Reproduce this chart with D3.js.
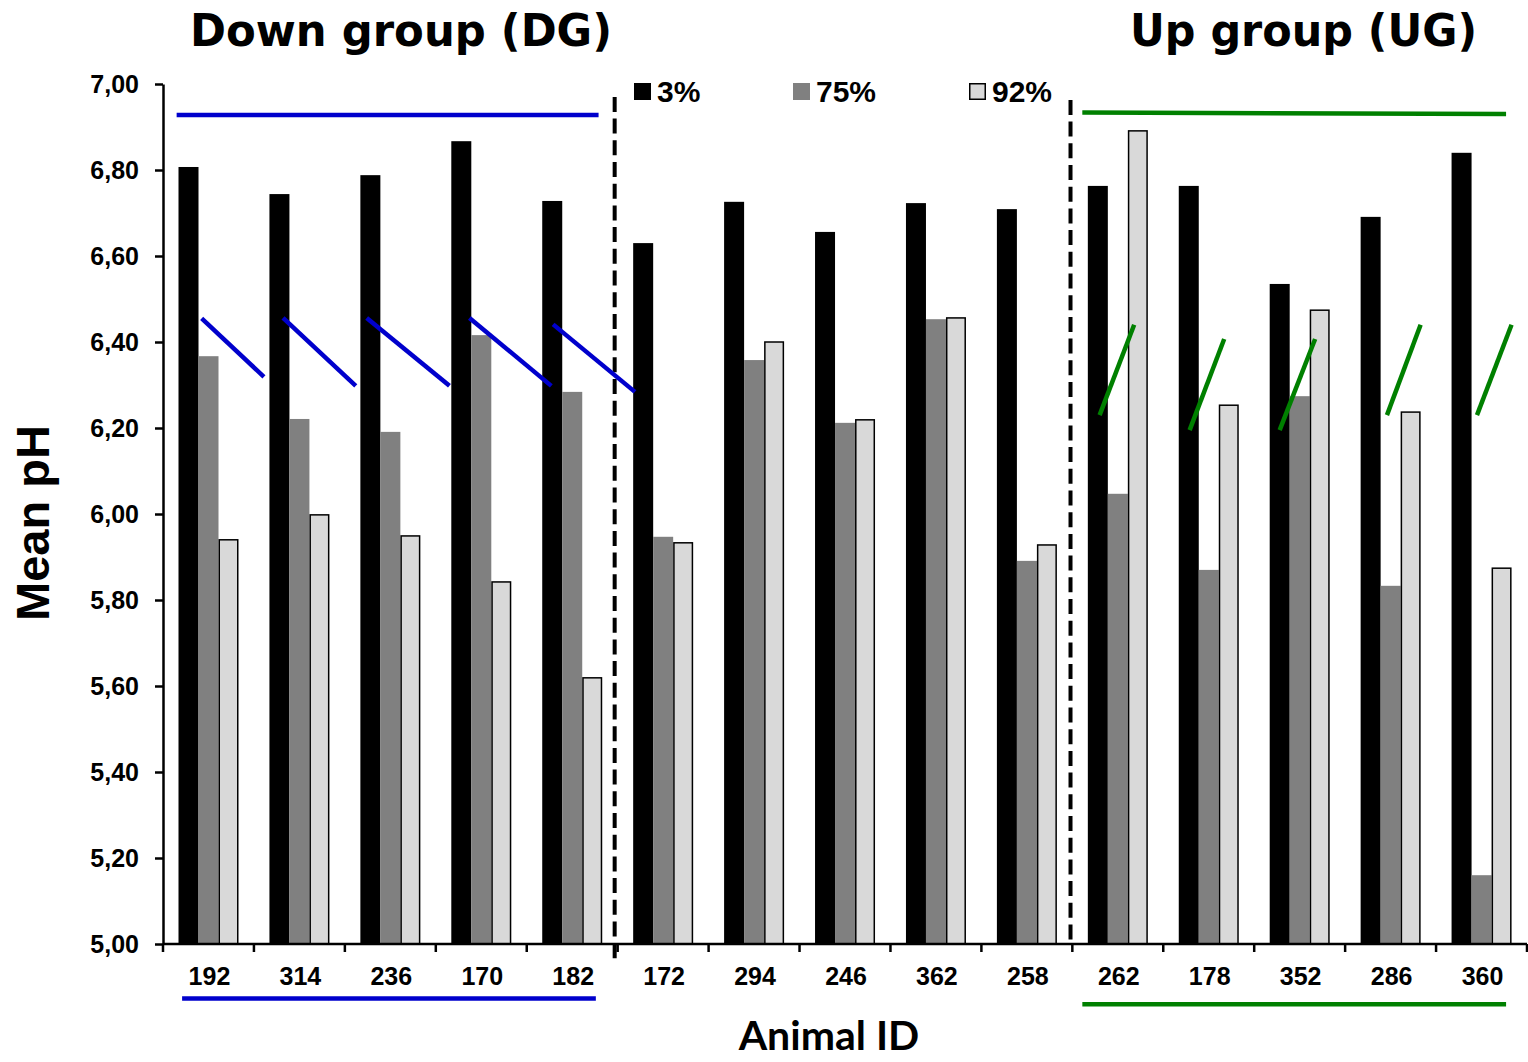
<!DOCTYPE html>
<html><head><meta charset="utf-8">
<script src="https://cdn.jsdelivr.net/npm/d3@7"></script>
<style>body{margin:0;background:#fff}svg{display:block}</style>
</head><body>
<svg id="c" width="1528" height="1062"></svg>
<script>
// ---- data ----
const categories = ["192","314","236","170","182","172","294","246","362","258","262","178","352","286","360"];
const seriesNames = ["3%","75%","92%"];
const values3  = [6.807,6.744,6.788,6.867,6.728,6.630,6.726,6.656,6.723,6.709,6.763,6.763,6.535,6.691,6.840];
const values75 = [6.367,6.221,6.191,6.416,6.284,5.947,6.358,6.212,6.453,5.891,6.047,5.870,6.274,5.833,5.160];
const values92 = [5.940,5.998,5.949,5.842,5.619,5.933,6.400,6.219,6.456,5.928,6.891,6.253,6.474,6.237,5.874];
const yTicks = [5.0,5.2,5.4,5.6,5.8,6.0,6.2,6.4,6.6,6.8,7.0];
const groupTitles = ["Down group (DG)","Up group (UG)"];
// annotation lines: [x in category-index units, pH value]
const blueLines = [
  [[0.15,6.928],[4.79,6.928]],
  [[0.21,4.873],[4.76,4.873]],
  [[0.425,6.455],[1.11,6.319]],
  [[1.32,6.456],[2.12,6.298]],
  [[2.24,6.456],[3.15,6.298]],
  [[3.37,6.456],[4.27,6.298]],
  [[4.29,6.441],[5.19,6.284]]
];
const greenLines = [
  [[10.11,6.934],[14.77,6.930]],
  [[10.11,4.860],[14.77,4.860]],
  [[10.30,6.230],[10.68,6.440]],
  [[11.29,6.195],[11.67,6.407]],
  [[12.28,6.195],[12.67,6.407]],
  [[13.46,6.230],[13.83,6.440]],
  [[14.45,6.230],[14.83,6.440]]
];
const separators = [
  [[4.967,6.970],[4.967,4.958]],
  [[9.98,6.963],[9.98,5.0]]
];

(function(){
const colors = ["#000000","#808080","#d9d9d9"];
const svg = d3.select("#c");
const pLeft = 163, pRight = 1527, pTop = 84, pBottom = 944;
const y = d3.scaleLinear().domain([5,7]).range([pBottom, pTop]);
const x0 = d3.scaleBand().domain(categories).range([pLeft, pRight]).padding(0);
const x1 = d3.scaleBand().domain(seriesNames).range([15.5, 75.5]).padding(0);
const xi = d3.scaleLinear().domain([0, categories.length]).range([pLeft, pRight]);
const locale = d3.formatLocale({decimal: ",", thousands: ".", grouping: [3], currency: ["", ""]});
const fmt = locale.format(".2f");

const series = [values3, values75, values92];
const rows = categories.map((c, i) => ({c, vals: seriesNames.map((s, k) => ({s, k, v: series[k][i]}))}));

// bars
const g = svg.append("g");
g.selectAll("g.cat").data(rows).join("g")
  .attr("transform", d => `translate(${x0(d.c)},0)`)
  .selectAll("rect").data(d => d.vals).join("rect")
  .attr("x", d => x1(d.s) + (d.k === 2 ? 0.75 : 0))
  .attr("width", d => x1.bandwidth() - (d.k === 2 ? 1.5 : 0))
  .attr("y", d => y(d.v))
  .attr("height", d => y(5) - y(d.v))
  .attr("fill", d => colors[d.k])
  .attr("stroke", d => d.k === 2 ? "#000" : "none")
  .attr("stroke-width", 1.5);

// y axis
const yAxis = d3.axisLeft(y).tickValues(yTicks).tickFormat(fmt).tickSize(8).tickSizeOuter(0).tickPadding(16);
const ya = svg.append("g").attr("transform", `translate(${pLeft},0)`).call(yAxis);
ya.selectAll("path,line").attr("stroke", "#000").attr("stroke-width", 2.5);
ya.selectAll("text").attr("font-family", "Liberation Sans, Arial, sans-serif").attr("font-weight", "bold").attr("font-size", 25).attr("fill", "#000");

// x axis
const xa = svg.append("g");
xa.append("line").attr("x1", pLeft).attr("x2", pRight).attr("y1", y(5)).attr("y2", y(5)).attr("stroke", "#000").attr("stroke-width", 2.5);
xa.selectAll("line.t").data(categories.concat(["__end"])).join("line")
  .attr("x1", (d, i) => i < categories.length ? x0(d) : pRight)
  .attr("x2", (d, i) => i < categories.length ? x0(d) : pRight)
  .attr("y1", y(5)).attr("y2", y(5) + 8)
  .attr("stroke", "#000").attr("stroke-width", 2.5);
xa.selectAll("text").data(categories).join("text")
  .attr("x", d => x0(d) + x0.bandwidth() / 2 + 1)
  .attr("y", 985)
  .attr("text-anchor", "middle")
  .attr("font-family", "Liberation Sans, Arial, sans-serif").attr("font-weight", "bold").attr("font-size", 25)
  .text(d => d);

// separators
const line = d3.line().x(d => xi(d[0])).y(d => y(d[1]));
svg.selectAll("path.sep").data(separators).join("path")
  .attr("d", line).attr("stroke", "#000").attr("stroke-width", 4).attr("stroke-dasharray", "15,6.7").attr("fill", "none");

// annotation lines
svg.selectAll("path.blue").data(blueLines).join("path")
  .attr("d", line).attr("stroke", "#0000cc").attr("stroke-width", 4.5).attr("fill", "none");
svg.selectAll("path.green").data(greenLines).join("path")
  .attr("d", line).attr("stroke", "#008000").attr("stroke-width", 4.5).attr("fill", "none");

// legend
const legX = [634, 793, 969];
const lg = svg.append("g");
seriesNames.forEach((s, k) => {
  lg.append("rect").attr("x", legX[k] + (k === 2 ? 0.75 : 0)).attr("y", 83 + (k === 2 ? 0.75 : 0))
    .attr("width", 17 - (k === 2 ? 1.5 : 0)).attr("height", 17 - (k === 2 ? 1.5 : 0))
    .attr("fill", colors[k]).attr("stroke", k === 2 ? "#000" : "none").attr("stroke-width", 1.5);
  lg.append("text").attr("x", legX[k] + 23).attr("y", 102)
    .attr("font-family", "Liberation Sans, Arial, sans-serif").attr("font-weight", "bold").attr("font-size", 30)
    .text(s);
});

// titles
svg.append("text").attr("x", 401).attr("y", 46).attr("text-anchor", "middle")
  .attr("font-family", "DejaVu Sans, Verdana, sans-serif").attr("font-weight", "bold").attr("font-size", 44)
  .attr("textLength", 422).attr("lengthAdjust", "spacingAndGlyphs")
  .text(groupTitles[0]);
svg.append("text").attr("x", 1303.5).attr("y", 46).attr("text-anchor", "middle")
  .attr("font-family", "DejaVu Sans, Verdana, sans-serif").attr("font-weight", "bold").attr("font-size", 44)
  .attr("textLength", 347).attr("lengthAdjust", "spacingAndGlyphs")
  .text(groupTitles[1]);

// axis titles
svg.append("text").attr("transform", "translate(49,523) rotate(-90)").attr("text-anchor", "middle")
  .attr("font-family", "Liberation Sans, Arial, sans-serif").attr("font-weight", "bold").attr("font-size", 47)
  .text("Mean pH");
svg.append("text").attr("x", 829).attr("y", 1050).attr("text-anchor", "middle")
  .attr("font-family", "Lato, Open Sans, sans-serif").attr("font-weight", "bold").attr("font-size", 41)
  .text("Animal ID");
})();
</script>
</body></html>
